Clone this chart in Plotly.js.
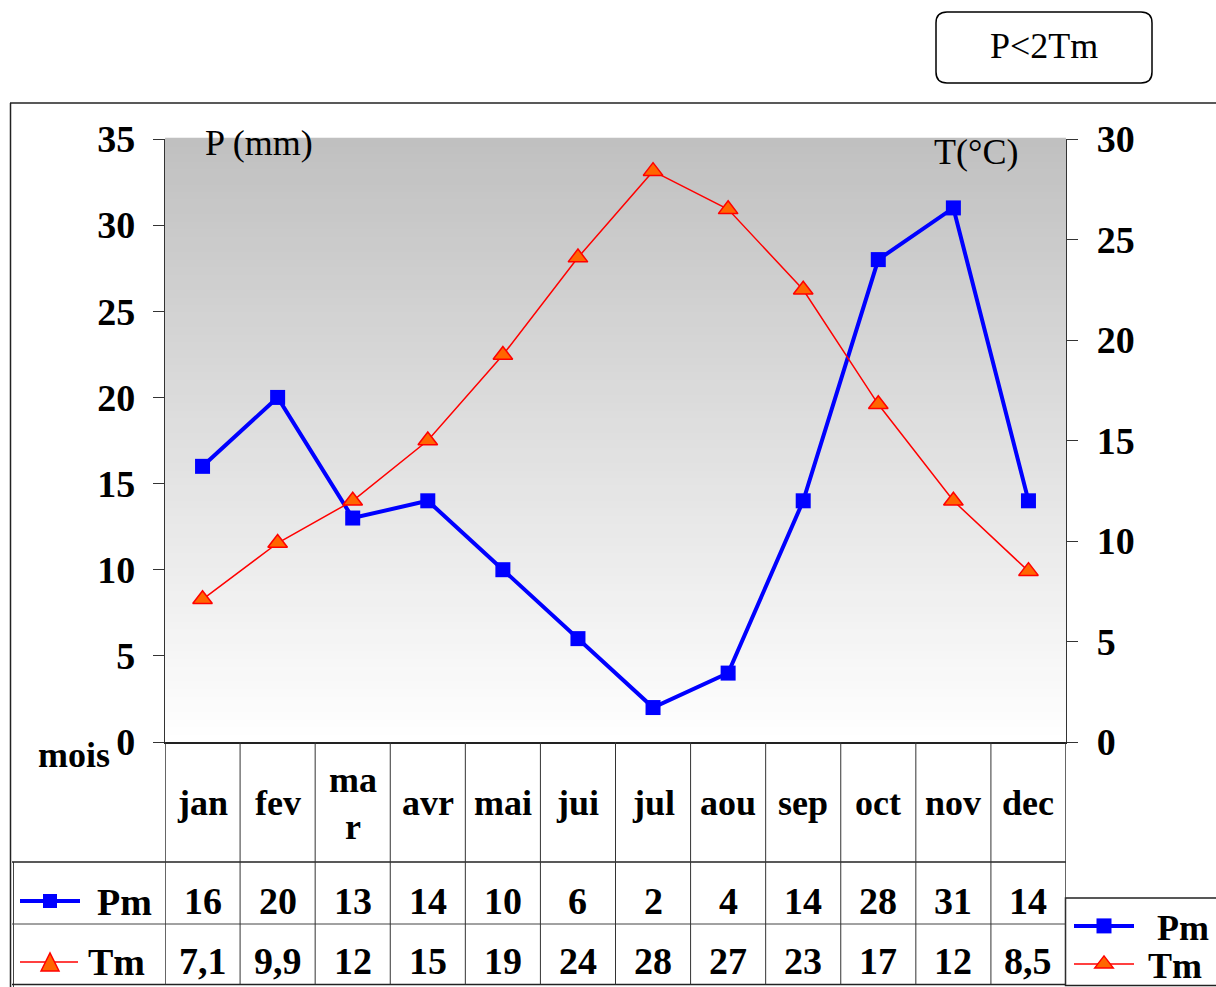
<!DOCTYPE html>
<html>
<head>
<meta charset="utf-8">
<script src="https://cdn.plot.ly/plotly-3.0.1.min.js"></script>
<style>html,body{margin:0;padding:0;background:#fff;overflow:hidden;}#chart{width:1216px;height:987px;}</style>
</head>
<body>
<div id="chart"></div>
<script>
// ---- data ----
const months = ['jan','fev','ma<br>r','avr','mai','jui','jul','aou','sep','oct','nov','dec'];
const pm = [16, 20, 13, 14, 10, 6, 2, 4, 14, 28, 31, 14];
const tm = [7.1, 9.9, 12, 15.0, 19.25, 24.1, 28.4, 26.5, 22.5, 16.8, 12, 8.5];
const pmLabels = ['16','20','13','14','10','6','2','4','14','28','31','14'];
const tmLabels = ['7,1','9,9','12','15','19','24','28','27','23','17','12','8,5'];
const leftTicks = [0,5,10,15,20,25,30,35];
const rightTicks = [0,5,10,15,20,25,30];

// ---- helpers (pixel -> paper) ----
const W = 1216, H = 987;
const px = x => x / W;
const py = y => 1 - y / H;

const serif = 'Liberation Serif, Times New Roman, serif';
const boldFont = (s) => ({family: serif, size: s, color: '#000', weight: 'bold'});
const normFont = (s) => ({family: serif, size: s, color: '#000'});

const idx = months.map((m, i) => i);

const traces = [
  {
    x: idx, y: pm, name: '\u00a0\u00a0Pm', type: 'scatter', mode: 'lines+markers',
    xaxis: 'x', yaxis: 'y', legend: 'legend',
    line: {color: '#0000ff', width: 4},
    marker: {symbol: 'square', size: 15, color: '#0000ff', line: {width: 0}}
  },
  {
    x: idx, y: tm, name: '\u00a0Tm', type: 'scatter', mode: 'lines+markers',
    xaxis: 'x', yaxis: 'y2', legend: 'legend2',
    line: {color: '#ff0000', width: 1.5},
    marker: {symbol: 'triangle-up', size: 17, color: '#ff6600', line: {color: '#ff0000', width: 1.5}}
  }
];

const shapes = [];
// gradient background of plot area
const N = 80;
for (let i = 0; i < N; i++) {
  const v = Math.round(255 - 63 * (i + 0.5) / N);
  shapes.push({type: 'rect', xref: 'x domain', yref: 'y domain', x0: 0, x1: 1,
    y0: i / N, y1: (i + 1) / N + 0.002, fillcolor: `rgb(${v},${v},${v})`,
    line: {width: 0}, layer: 'below'});
}
const ln = (x0, y0, x1, y1, w, c) => shapes.push({type: 'line', xref: 'paper', yref: 'paper',
  x0: px(x0), y0: py(y0), x1: px(x1), y1: py(y1), line: {color: c || '#000', width: w || 1.2}});
// outer frame
ln(10, 103, 1216, 103, 1.5, '#222');
ln(10.5, 103, 10.5, 987, 1.5, '#222');
ln(13.5, 862, 13.5, 987, 1, '#444');
// table horizontal lines
ln(12, 862, 1066, 862, 1.5, '#222');
ln(12, 924, 1066, 924, 1, '#444');
ln(12, 984.5, 1066, 984.5, 1.5, '#222');
// table vertical lines (between month columns, on the category axis)
for (let i = -1; i < months.length; i++) {
  shapes.push({type: 'line', xref: 'x', yref: 'paper', x0: i + 0.5, x1: i + 0.5,
    y0: py(742), y1: py(984.5), line: {color: '#333', width: (i === -1 || i === 11) ? 1.5 : 1}});
}
// row keys
ln(20, 901, 80, 901, 4, '#0000ff');
shapes.push({type: 'rect', xref: 'paper', yref: 'paper', x0: px(43), x1: px(57), y0: py(908), y1: py(894),
  fillcolor: '#0000ff', line: {width: 0}});
ln(20, 962, 78, 962, 1.5, '#ff0000');
shapes.push({type: 'path', xref: 'paper', yref: 'paper',
  path: `M ${px(41)} ${py(971)} L ${px(50)} ${py(953)} L ${px(59)} ${py(971)} Z`,
  fillcolor: '#ff6600', line: {color: '#ff0000', width: 1.5}});
// legend box
shapes.push({type: 'rect', xref: 'paper', yref: 'paper', x0: px(1065.5), x1: px(1220), y0: py(898), y1: py(985.5),
  line: {color: '#222', width: 1.5}, fillcolor: '#ffffff', layer: 'below'});
// P<2Tm rounded box
(function () {
  const x0 = 936, x1 = 1152, y0 = 12, y1 = 83, r = 11;
  const P = (x, y) => `${px(x)} ${py(y)}`;
  const path = `M ${P(x0 + r, y0)} L ${P(x1 - r, y0)} Q ${P(x1, y0)} ${P(x1, y0 + r)} ` +
    `L ${P(x1, y1 - r)} Q ${P(x1, y1)} ${P(x1 - r, y1)} L ${P(x0 + r, y1)} ` +
    `Q ${P(x0, y1)} ${P(x0, y1 - r)} L ${P(x0, y0 + r)} Q ${P(x0, y0)} ${P(x0 + r, y0)} Z`;
  shapes.push({type: 'path', xref: 'paper', yref: 'paper', path: path,
    line: {color: '#000', width: 1.5}, fillcolor: 'rgba(0,0,0,0)'});
})();

const annotations = [];
months.forEach((m, i) => {
  annotations.push({xref: 'x', yref: 'paper', x: i, y: py(803), text: m, showarrow: false,
    font: boldFont(36), xanchor: 'center', yanchor: 'middle'});
  annotations.push({xref: 'x', yref: 'paper', x: i, y: py(901), text: pmLabels[i], showarrow: false,
    font: boldFont(38), xanchor: 'center', yanchor: 'middle'});
  annotations.push({xref: 'x', yref: 'paper', x: i, y: py(961), text: tmLabels[i], showarrow: false,
    font: boldFont(38), xanchor: 'center', yanchor: 'middle'});
});
const pa = (x, y, t, f, xa) => annotations.push({xref: 'paper', yref: 'paper', x: px(x), y: py(y), text: t,
  showarrow: false, font: f, xanchor: xa || 'center', yanchor: 'middle'});
pa(74, 755, 'mois', boldFont(36));
pa(154, 902, 'Pm', boldFont(38), 'right');
pa(147, 962, 'Tm', boldFont(38), 'right');
pa(259, 143, 'P (mm)', normFont(36));
pa(976, 152, 'T(°C)', normFont(36));
pa(1044, 46, 'P&lt;2Tm', normFont(36));

const legendBase = {
  xanchor: 'left', yanchor: 'middle', x: px(1069),
  bgcolor: 'rgba(0,0,0,0)', borderwidth: 0,
  font: boldFont(36), itemwidth: 60, tracegroupgap: 0
};

const layout = {
  width: W, height: H,
  margin: {l: 0, r: 0, t: 0, b: 0, pad: 0, autoexpand: false},
  paper_bgcolor: '#ffffff',
  plot_bgcolor: 'rgba(0,0,0,0)',
  showlegend: true,
  legend: Object.assign({}, legendBase, {y: py(926)}),
  legend2: Object.assign({}, legendBase, {y: py(964)}),
  xaxis: {
    domain: [px(165), px(1066)], range: [-0.5, 11.5], showticklabels: false,
    ticks: '', showgrid: false, zeroline: false, showline: true, linecolor: '#222', linewidth: 1.5,
    fixedrange: true
  },
  yaxis: {
    domain: [py(742), py(139)], range: [0, 35], tickvals: leftTicks, ticktext: leftTicks.map(String),
    ticks: 'outside', ticklen: 11, tickcolor: '#333', tickwidth: 1,
    showgrid: false, zeroline: false, showline: true, linecolor: '#333', linewidth: 1.2,
    tickfont: boldFont(38), ticklabelstandoff: 10, fixedrange: true
  },
  yaxis2: {
    overlaying: 'y', side: 'right', anchor: 'x', range: [0, 30],
    tickvals: rightTicks, ticktext: rightTicks.map(String),
    ticks: 'outside', ticklen: 11, tickcolor: '#333', tickwidth: 1,
    showgrid: false, zeroline: false, showline: true, linecolor: '#333', linewidth: 1.2,
    tickfont: boldFont(38), ticklabelstandoff: 11, fixedrange: true
  },
  shapes: shapes,
  annotations: annotations
};

Plotly.newPlot('chart', traces, layout, {displayModeBar: false, staticPlot: true});
</script>
</body>
</html>
